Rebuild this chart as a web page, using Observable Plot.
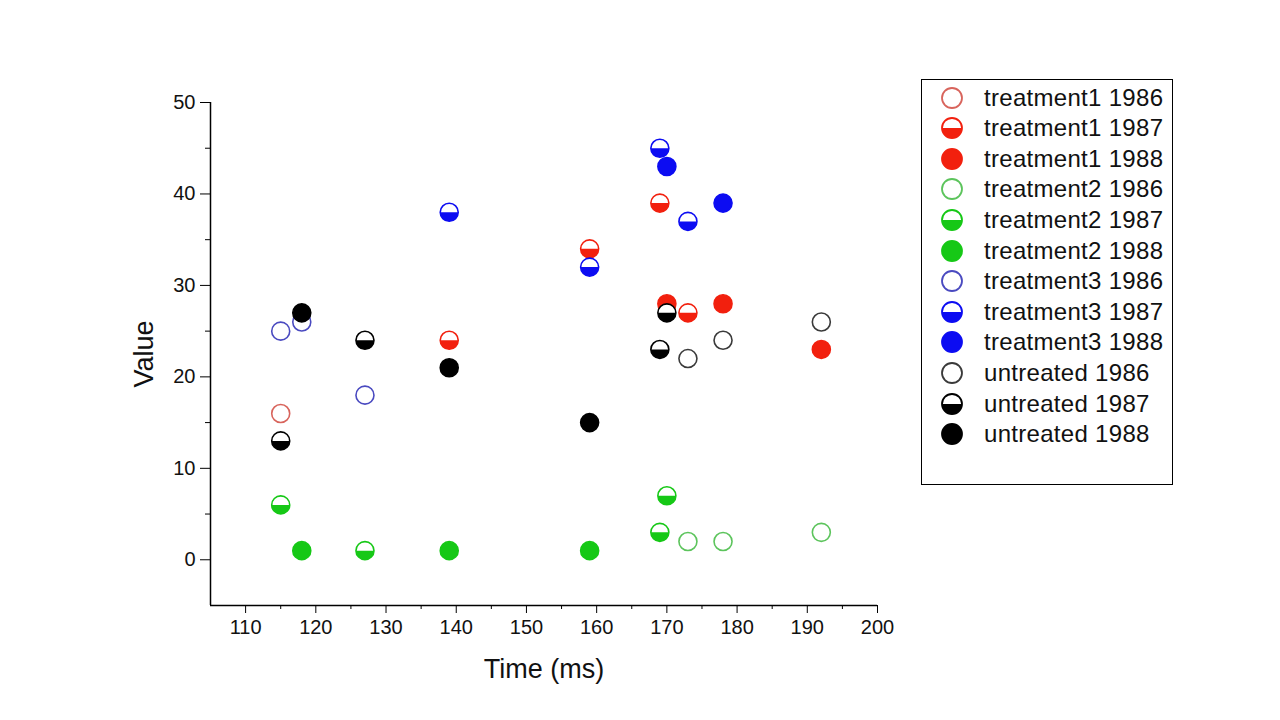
<!DOCTYPE html>
<html>
<head>
<meta charset="utf-8">
<script src="https://cdn.jsdelivr.net/npm/d3@7"></script>
<script src="https://cdn.jsdelivr.net/npm/@observablehq/plot@0.6"></script>
<style>
  body { margin: 0; background: #fff; }
  #wrap { position: relative; width: 1280px; height: 720px; font-family: "Liberation Sans", Arial, sans-serif; }
  #chart { position: absolute; left: 0; top: 0; }
  #legend { position: absolute; left: 921px; top: 79px; width: 250px; height: 404px; border: 1.5px solid #000; background: #fff; }
  #legend .item { position: absolute; left: 0; height: 30px; display: flex; align-items: center; }
  #legend .item span { font-size: 24px; letter-spacing: 0.3px; color: #111; margin-left: 20px; }
</style>
</head>
<body>
<div id="wrap">
  <div id="chart"></div>
  <div id="legend"></div>
</div>
<script>
// Measurements per group and year: [time (ms), value]
const treatment1_1986 = [[115, 16]];
const treatment1_1987 = [[139, 24], [159, 34], [169, 39], [173, 27]];
const treatment1_1988 = [[170, 28], [178, 28], [192, 23]];

const treatment2_1986 = [[173, 2], [178, 2], [192, 3]];
const treatment2_1987 = [[115, 6], [127, 1], [169, 3], [170, 7]];
const treatment2_1988 = [[118, 1], [139, 1], [159, 1]];

const treatment3_1986 = [[115, 25], [118, 26], [127, 18]];
const treatment3_1987 = [[139, 38], [159, 32], [169, 45], [173, 37]];
const treatment3_1988 = [[170, 43], [178, 39]];

const untreated_1986 = [[173, 22], [178, 24], [192, 26]];
const untreated_1987 = [[115, 13], [127, 24], [169, 23], [170, 27]];
const untreated_1988 = [[118, 27], [139, 21], [159, 15]];

const groups = ["treatment1", "treatment2", "treatment3", "untreated"];
const years = [1986, 1987, 1988];
const xTicks = [110, 120, 130, 140, 150, 160, 170, 180, 190, 200];
const xMinorTicks = [115, 125, 135, 145, 155, 165, 175, 185, 195];
const yTicks = [0, 10, 20, 30, 40, 50];
const yMinorTicks = [5, 15, 25, 35, 45];

const seriesData = {
  treatment1: {1986: treatment1_1986, 1987: treatment1_1987, 1988: treatment1_1988},
  treatment2: {1986: treatment2_1986, 1987: treatment2_1987, 1988: treatment2_1988},
  treatment3: {1986: treatment3_1986, 1987: treatment3_1987, 1988: treatment3_1988},
  untreated:  {1986: untreated_1986,  1987: untreated_1987,  1988: untreated_1988}
};

// solid colour per group, and the softer outline used for the hollow 1986 markers
const solid = {treatment1: "#f2200e", treatment2: "#16c816", treatment3: "#0c0cf2", untreated: "#000000"};
const hollow = {treatment1: "#d8645c", treatment2: "#5cc45c", treatment3: "#4a4ac0", untreated: "#3a3a3a"};

// lower half of a circle, used for the half-filled 1987 markers
const lowerHalf = {
  draw(context, size) {
    const r = Math.sqrt(size / Math.PI);
    context.moveTo(r, 0);
    context.arc(0, 0, r, 0, Math.PI);
    context.closePath();
  }
};

const R = 9;
const marks = [];
for (const g of groups) {
  for (const yr of years) {
    const pts = seriesData[g][yr];
    const stroke = yr === 1986 ? hollow[g] : solid[g];
    marks.push(Plot.dot(pts, {x: d => d[0], y: d => d[1], r: R, fill: yr === 1988 ? solid[g] : "#fff", stroke, strokeWidth: 1.6}));
    if (yr === 1987) {
      marks.push(Plot.dot(pts, {x: d => d[0], y: d => d[1], r: R, symbol: lowerHalf, fill: solid[g], stroke: "none"}));
    }
  }
}

const chart = Plot.plot({
  width: 1280,
  height: 720,
  marginLeft: 210,
  marginRight: 403,
  marginTop: 102,
  marginBottom: 115,
  style: {fontFamily: "'Liberation Sans', Arial, sans-serif", background: "#fff", color: "#111"},
  x: {domain: [105, 200]},
  y: {domain: [-5, 50]},
  marks: [
    Plot.axisX({ticks: xTicks, tickSize: 8, tickPadding: 6, fontSize: 20, label: null, stroke: "#000"}),
    Plot.axisX({ticks: xMinorTicks, tickSize: 4, text: null, label: null, stroke: "#000"}),
    Plot.axisY({ticks: yTicks, tickSize: 10, tickPadding: 5, fontSize: 20, label: null, stroke: "#000"}),
    Plot.axisY({ticks: yMinorTicks, tickSize: 5, text: null, label: null, stroke: "#000"}),
    Plot.ruleX([105], {stroke: "#000", strokeWidth: 1.5}),
    Plot.ruleY([-5], {stroke: "#000", strokeWidth: 1.5}),
    Plot.text(["Time (ms)"], {frameAnchor: "bottom", lineAnchor: "middle", textAnchor: "middle", dy: 64, fontSize: 27, fill: "#111"}),
    Plot.text(["Value"], {frameAnchor: "left", lineAnchor: "middle", textAnchor: "middle", dx: -66, rotate: -90, fontSize: 27, fill: "#111"}),
    ...marks
  ]
});
document.getElementById("chart").appendChild(chart);

// legend: one row per group and year
const legend = d3.select("#legend");
let row = 0;
for (const g of groups) {
  for (const yr of years) {
    const item = legend.append("div").attr("class", "item").style("top", (2.5 + row * 30.6) + "px").style("left", "18px");
    const svg = item.append("svg").attr("width", 24).attr("height", 24);
    const stroke = yr === 1986 ? hollow[g] : solid[g];
    svg.append("circle").attr("cx", 12).attr("cy", 12).attr("r", 10)
      .attr("fill", yr === 1988 ? solid[g] : "#fff").attr("stroke", stroke).attr("stroke-width", 1.8);
    if (yr === 1987) {
      svg.append("path").attr("d", d3.arc()({innerRadius: 0, outerRadius: 10, startAngle: Math.PI / 2, endAngle: Math.PI * 1.5}))
        .attr("transform", "translate(12,12)").attr("fill", solid[g]);
    }
    item.append("span").text(`${g} ${yr}`);
    row++;
  }
}
</script>
</body>
</html>
